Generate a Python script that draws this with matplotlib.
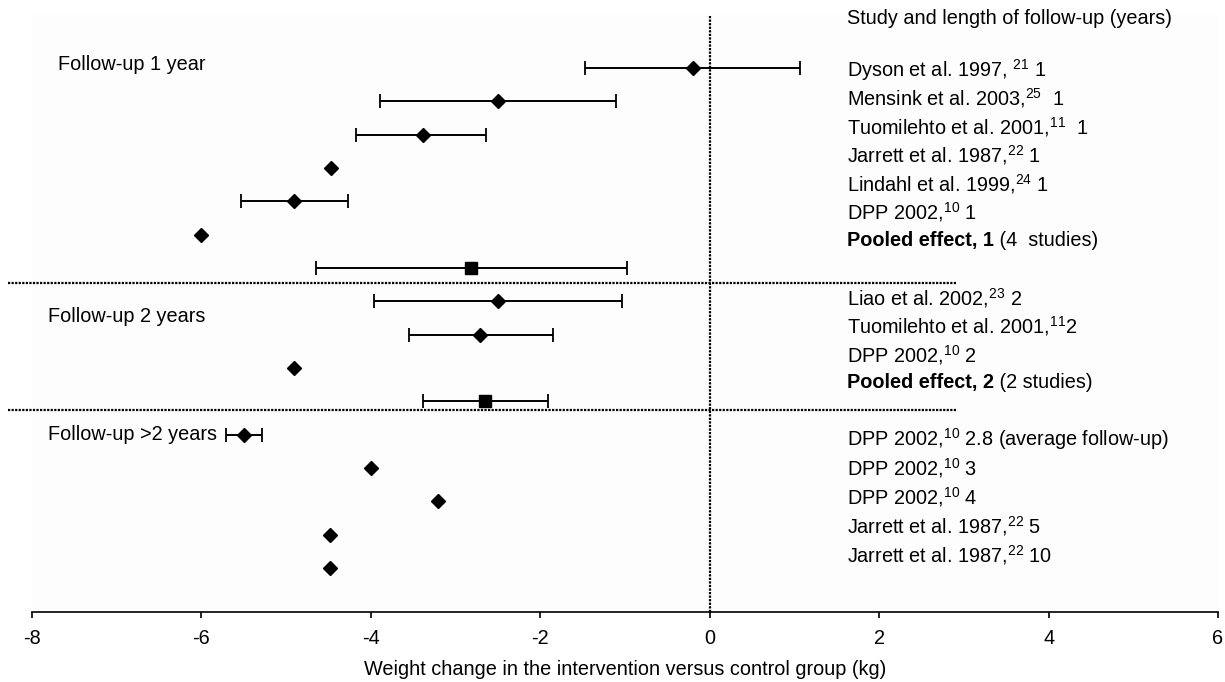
import numpy as np
import matplotlib
matplotlib.use("Agg")
import matplotlib.pyplot as plt

plt.rcParams['font.family'] = ['Liberation Sans', 'DejaVu Sans']
plt.rcParams['mathtext.fontset'] = 'custom'
plt.rcParams['mathtext.rm'] = 'Liberation Sans'
plt.rcParams['mathtext.default'] = 'regular'
plt.rcParams['axes.unicode_minus'] = False

# Studien (von oben nach unten)
labels = [
    "Dyson et al. 1997, $^{21}$ 1",
    "Mensink et al. 2003,$^{25}$  1",
    "Tuomilehto et al. 2001,$^{11}$  1",
    "Jarrett et al. 1987,$^{22}$ 1",
    "Lindahl et al. 1999,$^{24}$ 1",
    "DPP 2002,$^{10}$ 1",
    "Pooled effect, 1|(4  studies)",
    "Liao et al. 2002,$^{23}$ 2",
    "Tuomilehto et al. 2001,$^{11}$2",
    "DPP 2002,$^{10}$ 2",
    "Pooled effect, 2|(2 studies)",
    "DPP 2002,$^{10}$ 2.8 (average follow-up)",
    "DPP 2002,$^{10}$ 3",
    "DPP 2002,$^{10}$ 4",
    "Jarrett et al. 1987,$^{22}$ 5",
    "Jarrett et al. 1987,$^{22}$ 10",
]
effect = [-0.20, -2.50, -3.39, -4.47, -4.91, -6.00, -2.82,
          -2.50, -2.71, -4.91, -2.65,
          -5.50, -4.00, -3.21, -4.48, -4.48]
ci_low = [-1.47, -3.89, -4.17, np.nan, -5.53, np.nan, -4.65,
          -3.96, -3.55, np.nan, -3.39,
          -5.71, np.nan, np.nan, np.nan, np.nan]
ci_high = [1.07, -1.11, -2.64, np.nan, -4.27, np.nan, -0.98,
           -1.03, -1.85, np.nan, -1.91,
           -5.28, np.nan, np.nan, np.nan, np.nan]
pooled = [False] * 6 + [True] + [False] * 3 + [True] + [False] * 5
groups = ["Follow-up 1 year", "Follow-up 2 years", "Follow-up >2 years"]
group_sizes = [7, 4, 5]

effect = np.array(effect)
ci_low = np.array(ci_low)
ci_high = np.array(ci_high)
pooled = np.array(pooled)
rows = np.arange(len(effect))

fs = 14.3

fig = plt.figure(figsize=(12.25, 6.82), dpi=100)
ax = fig.add_axes([32 / 1225, 70 / 682, 1186 / 1225, 597 / 682])
ax.set_facecolor('#fdfdfd')

has_ci = ~np.isnan(ci_low)
ax.errorbar(effect[has_ci], rows[has_ci],
            xerr=[effect[has_ci] - ci_low[has_ci], ci_high[has_ci] - effect[has_ci]],
            fmt='none', ecolor='black', elinewidth=1.4, capsize=5, capthick=1.3, zorder=2)
ax.plot(effect[~pooled], rows[~pooled], 'D', color='black', markersize=6.8, zorder=3)
ax.plot(effect[pooled], rows[pooled], 's', color='black', markersize=8.8, zorder=3)

ax.axvline(0, color='black', lw=1.6, ls=(0, (1, 0.6)), zorder=1)

ax.set_xlim(-8, 6)
ax.set_ylim(16.32, -1.59)
ax.set_xticks(np.arange(-8, 7, 2))
ax.set_yticks([])
for s in ['top', 'right', 'left']:
    ax.spines[s].set_visible(False)
ax.spines['bottom'].set_linewidth(1.2)
ax.tick_params(axis='x', direction='out', length=4, width=1.2, labelsize=fs, pad=8)
ax.set_xlabel("Weight change in the intervention versus control group (kg)",
              fontsize=fs, labelpad=9)

# Trennlinien zwischen den Gruppen
for yy in [6.45, 10.26]:
    ax.plot([-8.28, 2.92], [yy, yy], color='black', lw=1.6, ls=(0, (1, 0.6)),
            clip_on=False, zorder=1)

# Gruppentitel links
for name, (gx, gy) in zip(groups, [(-7.69, -0.09), (-7.81, 7.44), (-7.81, 11.01)]):
    ax.text(gx, gy, name, fontsize=fs, va='center', ha='left')

# Studienbeschriftung rechts
tx = 1.62
ax.text(tx, -1.5, "Study and length of follow-up (years)", fontsize=fs, va='center')
label_rows = []
for start, step, n in zip([0.05, 6.9, 11.13], [0.855, 0.85, 0.87], group_sizes):
    label_rows += [start + k * step for k in range(n)]
for lab, ly in zip(labels, label_rows):
    if '|' in lab:
        bold, rest = lab.split('|')
        t = ax.text(tx, ly, bold, fontsize=fs, fontweight='bold', va='center')
        ax.annotate(" " + rest, xy=(1, 0), xycoords=t, va='bottom', fontsize=fs)
    else:
        ax.text(tx, ly, lab, fontsize=fs, va='center')

fig.savefig("out.png", dpi=100, facecolor='white')
